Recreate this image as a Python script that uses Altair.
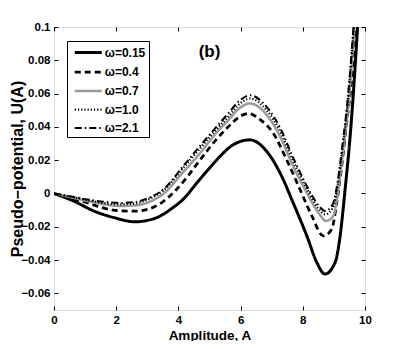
import altair as alt
import pandas as pd

# ---- data ----
series = ["ω=0.15", "ω=0.4", "ω=0.7", "ω=1.0", "ω=2.1"]

A_015 = [0, 0.64, 1.29, 1.93, 2.6, 3.0, 3.4, 3.8, 4.16, 4.6, 4.91, 5.34, 5.7, 6.0, 6.3, 6.84, 7.27, 7.69, 8.13, 8.45, 8.71, 9.04, 9.2, 9.36, 9.52, 9.64, 9.76]
U_015 = [0, -0.0046, -0.0106, -0.0145, -0.0170, -0.0162, -0.0137, -0.0088, -0.0034, 0.0065, 0.0133, 0.0223, 0.0285, 0.0313, 0.0322, 0.0253, 0.0123, -0.0056, -0.0255, -0.0414, -0.0484, -0.0414, -0.0255, 0.0024, 0.034, 0.064, 0.1]

A_04 = [0, 0.6, 1.07, 1.6, 2.14, 2.6, 3.0, 3.5, 3.84, 4.2, 4.69, 5.2, 5.6, 6.0, 6.25, 6.62, 7.05, 7.48, 7.91, 8.29, 8.66, 8.93, 9.09, 9.25, 9.41, 9.57, 9.7]
U_04 = [0, -0.003, -0.0056, -0.0088, -0.0104, -0.0106, -0.0096, -0.005, 0.0005, 0.008, 0.020, 0.032, 0.040, 0.0465, 0.048, 0.0445, 0.0362, 0.0203, 0.0024, -0.0135, -0.0255, -0.0215, -0.0056, 0.0163, 0.0422, 0.068, 0.1]

A_07 = [0, 0.6, 1.07, 1.6, 2.14, 2.6, 3.1, 3.5, 4.16, 4.69, 5.2, 5.6, 5.98, 6.3, 6.84, 7.27, 7.69, 8.13, 8.5, 8.75, 8.98, 9.14, 9.3, 9.46, 9.66]
U_07 = [0, -0.0025, -0.0045, -0.0065, -0.0075, -0.0072, -0.0048, -0.0005, 0.013, 0.024, 0.036, 0.044, 0.0515, 0.0541, 0.0472, 0.0342, 0.0163, 0.0004, -0.0115, -0.0165, -0.0135, 0.0024, 0.0263, 0.052, 0.1]

A_10 = [0, 0.6, 1.07, 1.6, 2.14, 2.6, 3.0, 3.5, 4.16, 4.69, 5.2, 5.6, 5.98, 6.3, 6.84, 7.27, 7.69, 8.13, 8.5, 8.72, 8.95, 9.12, 9.28, 9.44, 9.64]
U_10 = [0, -0.0022, -0.004, -0.0057, -0.0065, -0.006, -0.0038, 0.0015, 0.0155, 0.027, 0.038, 0.046, 0.054, 0.057, 0.050, 0.0375, 0.0195, 0.003, -0.009, -0.0125, -0.009, 0.005, 0.028, 0.054, 0.1]

A_21 = [0, 0.6, 1.07, 1.6, 2.14, 2.6, 3.0, 3.5, 4.16, 4.69, 5.2, 5.6, 5.98, 6.3, 6.84, 7.27, 7.69, 8.13, 8.5, 8.72, 8.95, 9.12, 9.28, 9.44, 9.63]
U_21 = [0, -0.002, -0.0036, -0.005, -0.0057, -0.0052, -0.003, 0.0022, 0.0165, 0.0285, 0.0395, 0.048, 0.056, 0.059, 0.052, 0.0395, 0.0215, 0.0045, -0.007, -0.0105, -0.007, 0.007, 0.030, 0.056, 0.1]

x_ticks = [0, 2, 4, 6, 8, 10]
y_ticks = [-0.06, -0.04, -0.02, 0, 0.02, 0.04, 0.06, 0.08, 0.1]
panel_label = pd.DataFrame({"A": [5.0], "U": [0.085], "t": ["(b)"]})

# ---- styles ----
colors = ["black", "black", "#9a9a9a", "black", "black"]
dashes = [[1, 0], [6, 4], [1, 0], [1.2, 2], [7, 3, 1.5, 3]]
widths = [3, 2, 2, 1.6, 1.6]
FONT = "Liberation Sans"

rows = []
for name, A, U in zip(series, [A_015, A_04, A_07, A_10, A_21], [U_015, U_04, U_07, U_10, U_21]):
    for a, u in zip(A, U):
        rows.append({"omega": name, "A": a, "U": u})
df = pd.DataFrame(rows)

x_scale = alt.Scale(domain=[0, 10], nice=False, zero=False)
y_scale = alt.Scale(domain=[-0.07, 0.1], nice=False, zero=False)

leg = alt.Legend(
    title=None, orient="none", legendX=13, legendY=14,
    strokeColor="black", fillColor="white", padding=3,
    symbolType="M-2,0H2", symbolSize=182, symbolOffset=9.75,
    labelFont=FONT, labelFontSize=12, labelFontWeight="bold", labelColor="black",
    rowPadding=4.5, labelOffset=8,
)

tick_style = dict(domain=False, grid=False, tickSize=4, offset=-4, tickColor="black")
axis_common = dict(labelFont=FONT, labelFontSize=11.5, labelFontWeight="bold", labelColor="black",
                   labelFlush=False, titleFont=FONT, titleFontWeight="bold", titleColor="black",
                   **tick_style)

lines = alt.Chart(df).mark_line(clip=True, interpolate="monotone").encode(
    x=alt.X("A:Q", scale=x_scale,
            axis=alt.Axis(values=x_ticks, title="Amplitude, A", labelPadding=4, titlePadding=2.5,
                          titleFontSize=13.5, **axis_common)),
    y=alt.Y("U:Q", scale=y_scale,
            axis=alt.Axis(values=y_ticks, title="Pseudo−potential, U(A)", labelPadding=4, titlePadding=-5,
                          titleFontSize=16,
                          labelExpr="datum.value == 0 ? '0' : format(datum.value, '.2~f')", **axis_common)),
    color=alt.Color("omega:N", scale=alt.Scale(domain=series, range=colors), legend=leg),
    strokeDash=alt.StrokeDash("omega:N", scale=alt.Scale(domain=series, range=dashes), legend=leg),
    strokeWidth=alt.StrokeWidth("omega:N", scale=alt.Scale(domain=series, range=widths), legend=leg),
)

frame = alt.Chart(df).mark_line(opacity=0).encode(
    x=alt.X("A:Q", scale=x_scale,
            axis=alt.Axis(orient="top", values=x_ticks, labels=False, title=None, **tick_style)),
    y=alt.Y("U:Q", scale=y_scale,
            axis=alt.Axis(orient="right", values=y_ticks, labels=False, title=None, **tick_style)),
    detail="omega:N",
)

label = alt.Chart(panel_label).mark_text(font=FONT, fontSize=17, fontWeight="bold", color="black").encode(
    x=alt.X("A:Q", scale=x_scale, axis=None),
    y=alt.Y("U:Q", scale=y_scale, axis=None),
    text="t:N",
)

chart = alt.layer(lines, frame, label).resolve_axis(x="independent", y="independent").properties(
    width=311, height=283,
    autosize=alt.AutoSizeParams(type="none"),
    padding={"left": 46, "top": 19, "right": 30, "bottom": 31},
).configure_view(stroke="black", strokeWidth=1).configure(background="white")

chart.save("out.html", embed_options={"renderer": "svg", "actions": False})
